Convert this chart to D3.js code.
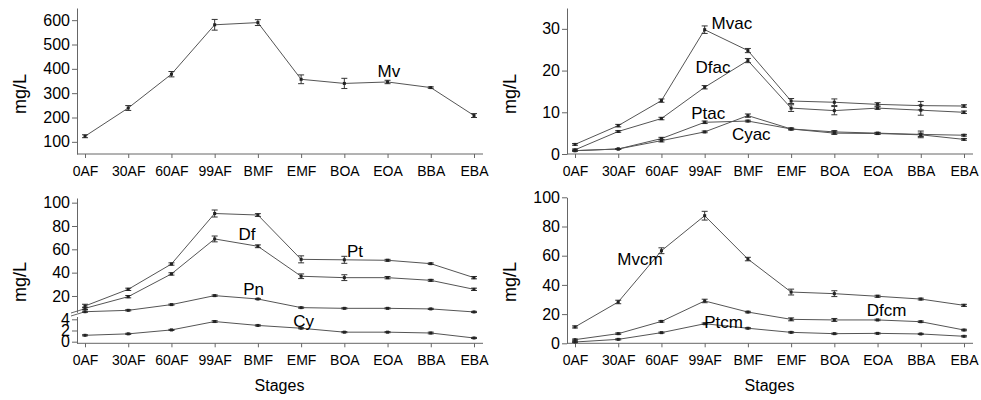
<!DOCTYPE html>
<html>
<head>
<meta charset="utf-8">
<script src="https://cdn.jsdelivr.net/npm/d3@7"></script>
<style>
  body { margin: 0; background: #fff; }
  svg text { font-family: "Liberation Sans", Arial, sans-serif; fill: #000; }
</style>
</head>
<body>
<svg width="981" height="400" id="mainsvg"></svg>
<script>
// stages on the x axis
const stages = ['0AF', '30AF', '60AF', '99AF', 'BMF', 'EMF', 'BOA', 'EOA', 'BBA', 'EBA'];

// top left
const mv = [123, 239, 378, 581, 590, 357, 340, 346, 323, 208];
const mvErr = [6, 10, 11, 22, 12, 18, 21, 7, 3, 8];

// top right
const mvac = [2.3, 6.8, 12.8, 29.8, 24.8, 12.7, 12.4, 11.9, 11.6, 11.5];
const mvacErr = [0.2, 0.3, 0.4, 0.9, 0.5, 0.6, 0.8, 0.4, 1.0, 0.3];
const dfac = [1.0, 5.4, 8.5, 16.0, 22.4, 11.0, 10.4, 11.0, 10.5, 10.0];
const dfacErr = [0.2, 0.2, 0.3, 0.4, 0.5, 0.8, 1.0, 0.3, 1.2, 0.3];
const ptac = [0.8, 1.2, 3.7, 7.6, 7.9, 6.0, 5.3, 5.0, 4.7, 4.5];
const ptacErr = [0.1, 0.1, 0.3, 0.3, 0.2, 0.2, 0.3, 0.2, 0.8, 0.2];
const cyac = [0.8, 1.2, 3.2, 5.3, 9.2, 6.0, 5.0, 4.9, 4.6, 3.5];
const cyacErr = [0.1, 0.1, 0.3, 0.2, 0.4, 0.2, 0.3, 0.2, 0.4, 0.2];

// bottom left (broken axis)
const pt = [11.4, 25.7, 47.4, 90.7, 89.4, 51.4, 51.0, 50.6, 47.7, 35.7];
const ptErr = [1.5, 1, 1, 3, 1.2, 3, 3, 0.8, 0.6, 1];
const df = [9.4, 19.4, 38.9, 68.9, 62.6, 36.9, 35.7, 35.7, 33.4, 25.7];
const dfErr = [1, 1, 1, 2.5, 1.2, 2, 2.5, 1, 0.8, 1];
const pn = [6.5, 7.7, 12.6, 20.3, 17.4, 10.0, 9.4, 9.4, 8.9, 6.3];
const pnErr = [0.5, 0.5, 0.5, 0.6, 0.5, 0.5, 0.5, 0.5, 0.5, 0.5];
const cy = [1.14, 1.4, 2.1, 3.6, 2.9, 2.4, 1.7, 1.7, 1.55, 0.66];
const cyErr = [0.1, 0.1, 0.1, 0.15, 0.1, 0.1, 0.1, 0.1, 0.15, 0.1];

// bottom right
const mvcm = [11.2, 28.3, 63.4, 87.4, 57.7, 35.1, 34.0, 32.2, 30.3, 26.0];
const mvcmErr = [0.7, 1.2, 2, 3, 1.2, 2, 2, 0.7, 0.6, 0.7];
const dfcm = [2.5, 6.6, 15.0, 29.0, 21.4, 16.4, 16.0, 16.0, 14.8, 9.1];
const dfcmErr = [0.4, 0.5, 0.5, 1.2, 0.5, 1, 1, 0.5, 0.5, 0.5];
const ptcm = [0.9, 2.7, 7.3, 13.4, 10.3, 7.5, 6.6, 6.8, 6.4, 4.8];
const ptcmErr = [0.4, 0.4, 0.4, 0.5, 0.4, 0.4, 0.4, 0.4, 0.4, 0.4];

const svg = d3.select('#mainsvg');
const lineColor = '#555';
const axisColor = '#666';

// x scale per column
function makeX(axisX) {
    return d3.scalePoint().domain(stages).range([axisX + 8, axisX + 397]);
}

function drawXAxis(g, x, axisX, y0, showTitle) {
    const ax = g.append('g').attr('transform', `translate(0,${y0})`)
        .call(d3.axisBottom(x).tickSize(4).tickPadding(8));
    ax.select('.domain').remove();
    ax.selectAll('.tick line').attr('stroke', axisColor);
    ax.selectAll('text').style('font-size', '14px');
    g.append('line').attr('x1', axisX).attr('x2', axisX + 406)
        .attr('y1', y0).attr('y2', y0).attr('stroke', axisColor);
    if (showTitle) {
        g.append('text').attr('x', (x.range()[0] + x.range()[1]) / 2).attr('y', y0 + 48)
            .attr('text-anchor', 'middle').style('font-size', '16px').text('Stages');
    }
}

function drawYAxis(g, y, axisX, ticks) {
    const ax = g.append('g').attr('transform', `translate(${axisX},0)`)
        .call(d3.axisLeft(y).tickValues(ticks).tickFormat(d3.format('d'))
            .tickSize(5).tickSizeOuter(0).tickPadding(2));
    ax.select('.domain').attr('stroke', axisColor);
    ax.selectAll('.tick line').attr('stroke', axisColor);
    ax.selectAll('text').style('font-size', '16px');
    return ax;
}

function yTitle(g, x, y) {
    g.append('text').attr('transform', `translate(${x},${y}) rotate(-90)`)
        .attr('text-anchor', 'middle').attr('dominant-baseline', 'central')
        .style('font-size', '18px').text('mg/L');
}

function drawSeries(g, x, y, vals, errs) {
    const pts = stages.map((s, i) => ({ s: s, v: vals[i], e: errs[i] }));
    g.append('path').datum(pts)
        .attr('fill', 'none').attr('stroke', lineColor).attr('stroke-width', 1)
        .attr('d', d3.line().x(d => x(d.s)).y(d => y(d.v)));
    const eb = g.append('g').attr('stroke', '#333').attr('stroke-width', 1);
    pts.forEach(d => {
        eb.append('line').attr('x1', x(d.s)).attr('x2', x(d.s))
            .attr('y1', y(d.v - d.e)).attr('y2', y(d.v + d.e));
        [d.v - d.e, d.v + d.e].forEach(v => {
            eb.append('line').attr('x1', x(d.s) - 3).attr('x2', x(d.s) + 3)
                .attr('y1', y(v)).attr('y2', y(v));
        });
    });
    g.selectAll(null).data(pts).join('rect')
        .attr('x', d => x(d.s) - 1.5).attr('y', d => y(d.v) - 1.5)
        .attr('width', 3).attr('height', 3).attr('fill', '#222');
}

function label(g, x, y, txt, stage, dx, v) {
    g.append('text').attr('x', x(stage) + dx * x.step()).attr('y', y(v))
        .style('font-size', '17px').text(txt);
}

// ---- top left: Mv
{
    const g = svg.append('g');
    const x = makeX(77);
    const y = d3.scaleLinear().domain([50, 650]).range([154, 8]);
    drawYAxis(g, y, 77, [100, 200, 300, 400, 500, 600]);
    drawXAxis(g, x, 77, 154, false);
    yTitle(g, 20, 94);
    drawSeries(g, x, y, mv, mvErr);
    label(g, x, y, 'Mv', 'EOA', -0.23, 366);
}

// ---- top right: acids
{
    const g = svg.append('g');
    const x = makeX(567);
    const y = d3.scaleLinear().domain([0, 35]).range([154, 8]);
    drawYAxis(g, y, 567, [0, 10, 20, 30]);
    drawXAxis(g, x, 567, 154, false);
    yTitle(g, 510, 94);
    drawSeries(g, x, y, mvac, mvacErr);
    drawSeries(g, x, y, dfac, dfacErr);
    drawSeries(g, x, y, ptac, ptacErr);
    drawSeries(g, x, y, cyac, cyacErr);
    label(g, x, y, 'Mvac', '99AF', 0.16, 29.9);
    label(g, x, y, 'Dfac', '99AF', -0.21, 19.4);
    label(g, x, y, 'Ptac', '99AF', -0.31, 8.35);
    label(g, x, y, 'Cyac', '99AF', 0.63, 3.34);
}

// ---- bottom left: broken y axis
{
    const g = svg.append('g');
    const x = makeX(77);
    const yUp = d3.scaleLinear().domain([6, 104]).range([312.3, 198]);
    const yLow = d3.scaleLinear().domain([-0.29, 4.5]).range([343.3, 316.5]);
    drawYAxis(g, yUp, 77, [20, 40, 60, 80, 100]);
    drawYAxis(g, yLow, 77, [0, 2, 4]);
    // break marks
    [0, 3].forEach(off => {
        g.append('line').attr('x1', 71).attr('x2', 84)
            .attr('y1', 316 - off).attr('y2', 312 - off)
            .attr('stroke', axisColor);
    });
    drawXAxis(g, x, 77, 343.3, true);
    yTitle(g, 20, 282);
    drawSeries(g, x, yUp, pt, ptErr);
    drawSeries(g, x, yUp, df, dfErr);
    drawSeries(g, x, yUp, pn, pnErr);
    drawSeries(g, x, yLow, cy, cyErr);
    label(g, x, yUp, 'Df', '99AF', 0.55, 68);
    label(g, x, yUp, 'Pt', 'BOA', 0.06, 53.4);
    label(g, x, yUp, 'Pn', '99AF', 0.66, 20.9);
    label(g, x, yLow, 'Cy', 'EMF', -0.18, 2.68);
}

// ---- bottom right: complexes
{
    const g = svg.append('g');
    const x = makeX(567);
    const y = d3.scaleLinear().domain([0, 100]).range([343.3, 197.3]);
    drawYAxis(g, y, 567, [0, 20, 40, 60, 80, 100]);
    drawXAxis(g, x, 567, 343.3, true);
    yTitle(g, 510, 282);
    drawSeries(g, x, y, mvcm, mvcmErr);
    drawSeries(g, x, y, dfcm, dfcmErr);
    drawSeries(g, x, y, ptcm, ptcmErr);
    label(g, x, y, 'Mvcm', '30AF', -0.02, 53.6);
    label(g, x, y, 'Dfcm', 'EOA', -0.25, 18.7);
    label(g, x, y, 'Ptcm', '99AF', -0.01, 10.7);
}
</script>
</body>
</html>
